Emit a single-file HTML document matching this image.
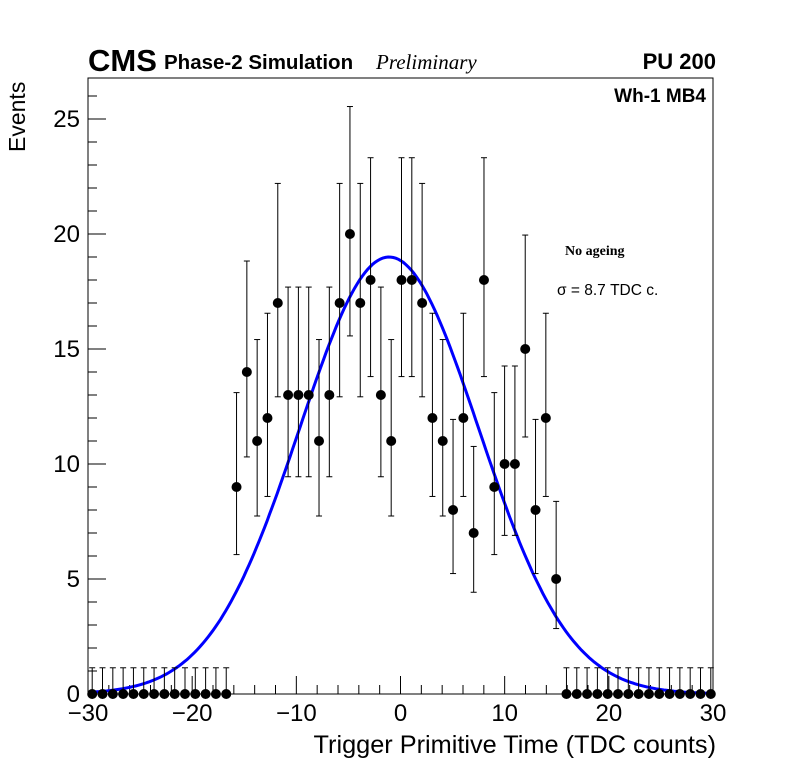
<!DOCTYPE html>
<html><head><meta charset="utf-8"><style>
body{margin:0;background:#fff;}
svg{display:block;font-family:"Liberation Sans",sans-serif;}
</style></head><body>
<svg id="c" width="796" height="772">
<rect x="0" y="0" width="796" height="772" fill="#fff"/>
<g id="frame"></g>
<g id="fit"></g>
<g id="pts"></g>
<text x="88" y="71" font-size="31" font-weight="bold">CMS</text>
<text x="164" y="69" font-size="20.5" font-weight="bold">Phase-2 Simulation</text>
<text x="376" y="69" font-size="21" font-style="italic" font-family="Liberation Serif,serif">Preliminary</text>
<text x="716" y="69" font-size="22" font-weight="bold" text-anchor="end">PU 200</text>
<text x="706" y="102" font-size="19" font-weight="bold" text-anchor="end">Wh-1 MB4</text>
<text x="565" y="255" font-size="14" font-weight="bold" font-family="Liberation Serif,serif">No ageing</text>
<text x="557" y="295" font-size="15.5">σ = 8.7 TDC c.</text>
<text x="716" y="753" font-size="25.3" text-anchor="end">Trigger Primitive Time (TDC counts)</text>
<text transform="translate(25,152) rotate(-90)" font-size="23">Events</text>
</svg>
<script>
const xs=[];for(let i=-30;i<=30;i++)xs.push(i);
const counts=[0,0,0,0,0,0,0,0,0,0,0,0,0,0,9,14,11,12,17,13,13,13,11,13,17,20,17,18,13,11,18,18,17,12,11,8,12,7,18,9,10,10,15,8,12,5,0,0,0,0,0,0,0,0,0,0,0,0,0,0,0];
const fitMean=[-1.2], fitAmp=[19.0], fitSigma=[8.7];
const xTicks=[-30,-20,-10,0,10,20,30];
const xTickLabels=["\u221230","\u221220","\u221210","0","10","20","30"];
const yTicks=[0,5,10,15,20,25];
const L=88,R=713,T=78,B=694;
const X=v=>L+(v+30)/60*(R-L);
const XP=v=>401.5+v*10.31;
const Y=v=>B-v*23;
const ns="http://www.w3.org/2000/svg";
function mk(tag,attrs,parent){const e=document.createElementNS(ns,tag);for(const k in attrs)e.setAttribute(k,attrs[k]);parent.appendChild(e);return e;}
const fr=document.getElementById('frame');
const box=mk('rect',{x:L,y:T,width:R-L,height:B-T,fill:'none',stroke:'#000','stroke-width':1},fr);


for(let v=-30;v<=30;v+=2){const maj=v%10===0;const t=mk('line',{x1:X(v),x2:X(v),y1:B,y2:B-(maj?18:9),stroke:'#000'},fr);

}
xTicks.forEach((v,i)=>{const t=mk('text',{x:X(v),y:B+27,'font-size':24,'text-anchor':'middle'},fr);t.textContent=xTickLabels[i];

});
for(let v=0;v<=26;v+=1){const maj=v%5===0;const t=mk('line',{x1:L,x2:L+(maj?18:9),y1:Y(v),y2:Y(v),stroke:'#000'},fr);

}
yTicks.forEach(v=>{const t=mk('text',{x:L-8,y:Y(v)+8,'font-size':24,'text-anchor':'end'},fr);t.textContent=v;

});
let d='';for(let v=-30.3;v<=30.3;v+=0.25){const f=fitAmp[0]*Math.exp(-0.5*Math.pow((v-fitMean[0])/fitSigma[0],2));d+=(d?'L':'M')+XP(v).toFixed(1)+','+Y(f).toFixed(1);}
const fp=mk('path',{d:d,fill:'none',stroke:'#0000ff','stroke-width':3},document.getElementById('fit'));


function up(n){if(n===0)return 1.14;const m=n+1;return m*Math.pow(1-1/(9*m)+1/(3*Math.sqrt(m)),3);}
function lo(n){if(n===0)return 0;return n*Math.pow(1-1/(9*n)-1/(3*Math.sqrt(n)),3);}
const pg=document.getElementById('pts');
xs.forEach((x,i)=>{const n=counts[i];const g=mk('g',{},pg);


const l=lo(n),u=up(n);const px=XP(x);
mk('line',{x1:px,x2:px,y1:Y(l),y2:Y(u),stroke:'#000','stroke-width':1},g);
mk('line',{x1:px-3,x2:px+3,y1:Y(u),y2:Y(u),stroke:'#000'},g);
if(n>0)mk('line',{x1:px-3,x2:px+3,y1:Y(l),y2:Y(l),stroke:'#000'},g);
mk('circle',{cx:px,cy:Y(n),r:5,fill:'#000'},g);});
</script>
</body></html>
